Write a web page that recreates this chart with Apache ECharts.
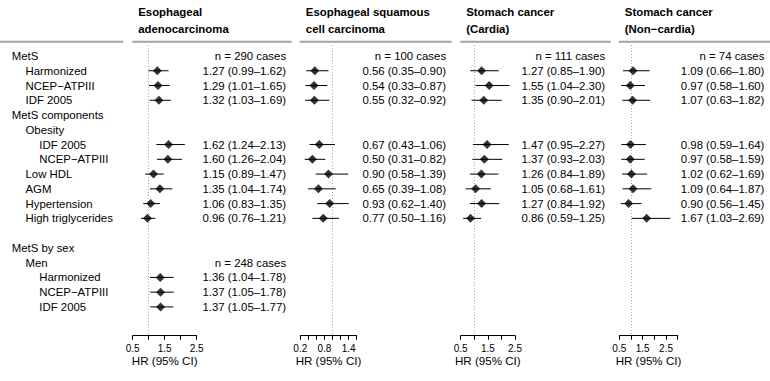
<!DOCTYPE html>
<html lang="en">
<head>
<meta charset="UTF-8">
<title>Metabolic syndrome and cancer risk</title>
<script src="https://cdn.jsdelivr.net/npm/echarts@6/dist/echarts.min.js"></script>
</head>
<body style="margin:0;background:#fff">
<div id="main" style="width:770px;height:381px"></div>
<script>
// rows of the table (top to bottom)
const rowLabels = ['MetS', 'Harmonized', 'NCEP\u2212ATPIII', 'IDF 2005', 'MetS components', 'Obesity',
    'IDF 2005', 'NCEP\u2212ATPIII', 'Low HDL', 'AGM', 'Hypertension', 'High triglycerides', '',
    'MetS by sex', 'Men', 'Harmonized', 'NCEP\u2212ATPIII', 'IDF 2005'];
const rowIndent = [0, 1, 1, 1, 0, 1, 2, 2, 1, 1, 1, 1, 0, 0, 1, 2, 2, 2];

const panelTitles = [['Esophageal', 'adenocarcinoma'], ['Esophageal squamous', 'cell carcinoma'],
    ['Stomach cancer', '(Cardia)'], ['Stomach cancer', '(Non\u2212cardia)']];
const caseCounts = [290, 100, 111, 74];
const menCases = [248, null, null, null];

// hazard ratios and 95% CI per row (null = nothing shown)
const eacHR = [null, 1.27, 1.29, 1.32, null, null, 1.62, 1.60, 1.15, 1.35, 1.06, 0.96, null, null, null, 1.36, 1.37, 1.37];
const eacLo = [null, 0.99, 1.01, 1.03, null, null, 1.24, 1.26, 0.89, 1.04, 0.83, 0.76, null, null, null, 1.04, 1.05, 1.05];
const eacHi = [null, 1.62, 1.65, 1.69, null, null, 2.13, 2.04, 1.47, 1.74, 1.35, 1.21, null, null, null, 1.78, 1.78, 1.77];

const esccHR = [null, 0.56, 0.54, 0.55, null, null, 0.67, 0.50, 0.90, 0.65, 0.93, 0.77];
const esccLo = [null, 0.35, 0.33, 0.32, null, null, 0.43, 0.31, 0.58, 0.39, 0.62, 0.50];
const esccHi = [null, 0.90, 0.87, 0.92, null, null, 1.06, 0.82, 1.39, 1.08, 1.40, 1.16];

const cardiaHR = [null, 1.27, 1.55, 1.35, null, null, 1.47, 1.37, 1.26, 1.05, 1.27, 0.86];
const cardiaLo = [null, 0.85, 1.04, 0.90, null, null, 0.95, 0.93, 0.84, 0.68, 0.84, 0.59];
const cardiaHi = [null, 1.90, 2.30, 2.01, null, null, 2.27, 2.03, 1.89, 1.61, 1.92, 1.25];

const noncardiaHR = [null, 1.09, 0.97, 1.07, null, null, 0.98, 0.97, 1.02, 1.09, 0.90, 1.67];
const noncardiaLo = [null, 0.66, 0.58, 0.63, null, null, 0.59, 0.58, 0.62, 0.64, 0.56, 1.03];
const noncardiaHi = [null, 1.80, 1.60, 1.82, null, null, 1.64, 1.59, 1.69, 1.87, 1.45, 2.69];

// x axis of each panel
const axisMin = [0.5, 0.2, 0.5, 0.5];
const axisMax = [2.5, 1.6, 2.5, 3.0];
const axisStep = [0.5, 0.2, 0.5, 0.5];
const tickLabels = [['0.5', '1.5', '2.5'], ['0.2', '0.8', '1.4'], ['0.5', '1.5', '2.5'], ['0.5', '1.5', '2.5']];

const hrs = [eacHR, esccHR, cardiaHR, noncardiaHR];
const los = [eacLo, esccLo, cardiaLo, noncardiaLo];
const his = [eacHi, esccHi, cardiaHi, noncardiaHi];

// layout
const axisLeft = [132.7, 300.3, 460.7, 619.3];
const axisWidth = [64, 56.4, 54.3, 58.4];
const panelRight = [291.7, 451.7, 610.7, 770];
const gridTop = 45, gridHeight = 290.7;
const font = '"Liberation Sans", Arial, Helvetica, sans-serif';
const fs = 11.4;

const chart = echarts.init(document.getElementById('main'), null, {renderer: 'svg'});

function fmt(v) { return v.toFixed(2); }

const grids = [], xAxes = [], yAxes = [], series = [], graphics = [];

for (let p = 0; p < 4; p++) {
    grids.push({left: axisLeft[p], width: axisWidth[p], top: gridTop, height: gridHeight});
    const labs = tickLabels[p];
    xAxes.push({
        type: 'value', gridIndex: p, min: axisMin[p], max: axisMax[p], interval: axisStep[p],
        position: 'bottom',
        splitLine: {show: false},
        axisLine: {onZero: false, lineStyle: {color: '#000', width: 1}},
        axisTick: {length: 4, lineStyle: {color: '#000'}},
        axisLabel: {
            color: '#000', fontSize: 10, fontFamily: font, margin: 8,
            formatter: v => labs.includes(v.toFixed(1)) ? v.toFixed(1) : ''
        },
        name: 'HR (95% CI)', nameLocation: 'middle', nameGap: 24.3, nameMoveOverlap: false,
        nameTextStyle: {color: '#000', fontSize: 11.6, fontFamily: font, verticalAlign: 'middle'}
    });
    yAxes.push({type: 'value', gridIndex: p, inverse: true, min: -0.745, max: 18.95, show: false});

    const ci = [], pts = [], txtRows = [], txtStr = [];
    txtRows.push(0); txtStr.push('n = ' + caseCounts[p] + ' cases');
    if (menCases[p] != null) { txtRows.push(14); txtStr.push('n = ' + menCases[p] + ' cases'); }
    hrs[p].forEach((h, i) => {
        if (h == null) return;
        ci.push([i, los[p][i], his[p][i]]);
        pts.push([h, i]);
        txtRows.push(i);
        txtStr.push(fmt(h) + ' (' + fmt(los[p][i]) + '\u2013' + fmt(his[p][i]) + ')');
    });

    series.push({
        type: 'custom', xAxisIndex: p, yAxisIndex: p, data: ci,
        encode: {x: [1, 2], y: 0},
        renderItem: (params, api) => {
            const a = api.coord([api.value(1), api.value(0)]);
            const b = api.coord([api.value(2), api.value(0)]);
            return {type: 'line', shape: {x1: a[0], y1: a[1], x2: b[0], y2: b[1]},
                style: {stroke: '#000', lineWidth: 1}};
        }
    });
    series.push({
        type: 'scatter', xAxisIndex: p, yAxisIndex: p, data: pts, z: 3,
        symbol: 'diamond', symbolSize: [9, 9], itemStyle: {color: '#000'},
        markLine: {
            silent: true, symbol: 'none', label: {show: false}, z: 1,
            lineStyle: {type: [1, 2], color: '#a8a8a8', width: 1},
            data: [{xAxis: 1}]
        }
    });
    const rx = panelRight[p] - 5.6;
    series.push({
        type: 'custom', xAxisIndex: p, yAxisIndex: p, data: txtRows.map(r => [axisMin[p], r]),
        renderItem: (params, api) => {
            const y = api.coord([api.value(0), api.value(1)])[1];
            return {type: 'text', x: rx, y: y,
                style: {text: txtStr[params.dataIndex], fill: '#000', fontSize: fs, fontFamily: font,
                    align: 'right', verticalAlign: 'middle'}};
        }
    });

    // panel header
    const hx = axisLeft[p] + 5.5;
    panelTitles[p].forEach((t, k) => {
        graphics.push({type: 'text', x: hx, y: 11.7 + k * 16.8,
            style: {text: t, fill: '#000', fontSize: fs, fontWeight: 'bold', fontFamily: font, verticalAlign: 'middle'}});
    });
    graphics.push({type: 'line', shape: {x1: axisLeft[p] - 0.5, y1: 41.7, x2: panelRight[p], y2: 41.7},
        style: {stroke: '#a3a3a3', lineWidth: 2}});
}
graphics.push({type: 'line', shape: {x1: 0, y1: 41.7, x2: 123.3, y2: 41.7},
    style: {stroke: '#a3a3a3', lineWidth: 2}});

// row labels on the left
series.push({
    type: 'custom', xAxisIndex: 0, yAxisIndex: 0,
    data: rowLabels.map((l, i) => [axisMin[0], i]),
    renderItem: (params, api) => {
        const i = params.dataIndex;
        const y = api.coord([api.value(0), api.value(1)])[1];
        return {type: 'text', x: 11.7 + rowIndent[i] * 13.8, y: y,
            style: {text: rowLabels[i], fill: '#000', fontSize: fs, fontFamily: font, verticalAlign: 'middle'}};
    }
});

chart.setOption({
    animation: false,
    grid: grids, xAxis: xAxes, yAxis: yAxes, series: series, graphic: graphics
});
</script>
</body>
</html>
